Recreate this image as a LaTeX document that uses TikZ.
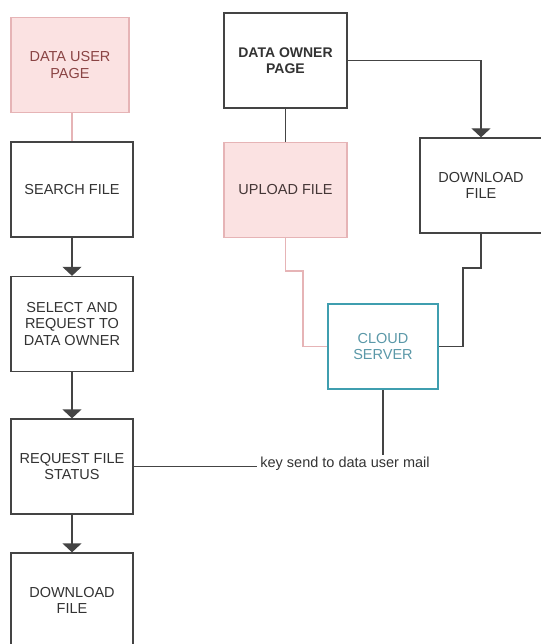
\documentclass[tikz,border=0pt]{standalone}
\usepackage{fontspec}
\setmainfont{Liberation Sans}
\usetikzlibrary{arrows.meta}
\definecolor{pinkfill}{HTML}{FBE2E2}
\definecolor{pinkline}{HTML}{E6B4B6}
\definecolor{pinktext}{HTML}{8A4444}
\definecolor{teal}{HTML}{3F9EAF}
\definecolor{tealtext}{HTML}{5A98A8}
\definecolor{boxline}{HTML}{444444}
\definecolor{boxtext}{HTML}{333333}
\begin{document}
\begin{tikzpicture}[x=1pt,y=-1pt,
    stepbox/.style={draw=boxline,line width=1.3pt,fill=white,minimum width=122pt,minimum height=95pt,
        align=center,text=boxtext,font=\fontsize{14.5}{16.5}\selectfont,inner sep=0pt},
    pinkbox/.style={stepbox,draw=pinkline,fill=pinkfill},
    cloudbox/.style={stepbox,draw=teal,line width=2pt,minimum width=110pt,minimum height=85pt,text=tealtext},
    link/.style={draw=boxline,line width=1.3pt},
    pinklink/.style={draw=pinkline,line width=1.8pt},
    arr/.style={link,-{Triangle[width=19pt,length=9pt]}}]
    \useasboundingbox (0,0) rectangle (540,644);
    % data user side (left column)
    \node[pinkbox,minimum width=118pt,text=pinktext] (user) at (70,65) {DATA USER\\PAGE};
    \node[stepbox] (search) at (72,189.5) {SEARCH FILE};
    \node[stepbox] (select) at (72,324) {SELECT AND\\REQUEST TO\\DATA OWNER};
    \node[stepbox] (request) at (72,466.5) {REQUEST FILE\\STATUS};
    \node[stepbox] (userdl) at (72,600.5) {DOWNLOAD\\FILE};
    % data owner side
    \node[stepbox,minimum width=123pt,font=\fontsize{14}{16.5}\selectfont\bfseries] (owner) at (285.5,60.5) {DATA OWNER\\PAGE};
    \node[pinkbox,minimum width=123pt,text=boxtext!80!pinktext] (upload) at (285.5,190) {UPLOAD FILE};
    \node[stepbox] (download) at (481,185.5) {DOWNLOAD\\FILE};
    \node[cloudbox] (cloud) at (383,346.5) {CLOUD\\SERVER};
    \node[text=boxtext,font=\fontsize{14.5}{16.5}\selectfont,inner xsep=3pt,inner ysep=2pt] (key) at (345,464) {key send to data user mail};
    \coordinate (pinkbend) at (303,271);
    \coordinate (dlbend) at (463,268);

    % edges
    \draw[pinklink] (user.south -| search.north) -- (search.north);
    \draw[arr] (search.south) -- (select.north);
    \draw[arr] (select.south) -- (request.north);
    \draw[arr] (request.south) -- (userdl.north);
    \draw[link] (owner.south) -- (upload.north);
    \draw[arr] (owner.east) -| (download.north);
    \draw[pinklink] (upload.south) |- (pinkbend) |- (cloud.west);
    \draw[link] (download.south) |- (dlbend) |- (cloud.east);
    \draw[link] (cloud.south) -- (key.north -| cloud.south);
    \draw[link] (request.east) -- (request.east -| key.west);
\end{tikzpicture}
\end{document}
